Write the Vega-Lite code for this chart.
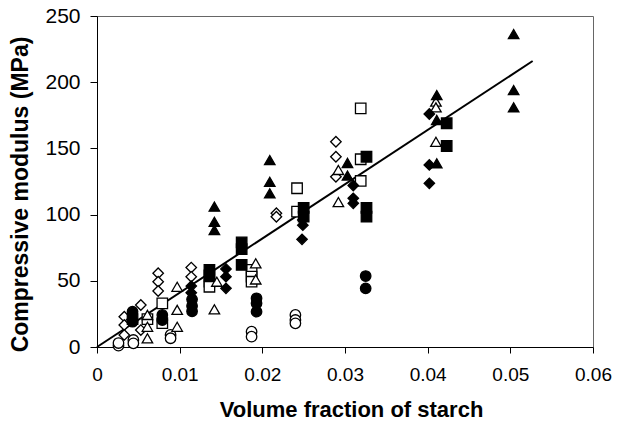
{
  "$schema": "https://vega.github.io/schema/vega-lite/v6.json",
  "width": 496,
  "height": 331,
  "autosize": {"type": "none"},
  "padding": {"left": 97, "top": 16, "right": 34, "bottom": 74},
  "background": "white",
  "config": {
    "view": {"stroke": "#666666", "strokeWidth": 1},
    "font": "Liberation Sans"
  },
  "datasets": {
    "fit": [{"x": 0, "y": 0}, {"x": 0.0527, "y": 216}],
    "pts": [
      {"x": 0.0026, "y": 1, "g": "H"}, {"x": 0.0026, "y": 3, "g": "H"},
      {"x": 0.0044, "y": 5.3, "g": "H"}, {"x": 0.0044, "y": 2.8, "g": "H"},
      {"x": 0.0089, "y": 9.1, "g": "H"}, {"x": 0.0089, "y": 6.6, "g": "H"},
      {"x": 0.0187, "y": 11.6, "g": "H"}, {"x": 0.0187, "y": 7.8, "g": "H"},
      {"x": 0.0240, "y": 24.2, "g": "H"}, {"x": 0.0240, "y": 20.4, "g": "H"}, {"x": 0.0240, "y": 17.9, "g": "H"},

      {"x": 0.0033, "y": 22.9, "g": "F"}, {"x": 0.0033, "y": 16.6, "g": "F"}, {"x": 0.0033, "y": 9.1, "g": "F"},
      {"x": 0.0053, "y": 31.7, "g": "F"}, {"x": 0.0053, "y": 12.8, "g": "F"},
      {"x": 0.0074, "y": 55.7, "g": "F"}, {"x": 0.0074, "y": 49.3, "g": "F"}, {"x": 0.0074, "y": 42.3, "g": "F"},
      {"x": 0.0114, "y": 60, "g": "F"}, {"x": 0.0114, "y": 53, "g": "F"},
      {"x": 0.0217, "y": 101, "g": "F"}, {"x": 0.0217, "y": 98.4, "g": "F"},
      {"x": 0.0289, "y": 155, "g": "F"}, {"x": 0.0289, "y": 143.7, "g": "F"}, {"x": 0.0289, "y": 128.6, "g": "F"},

      {"x": 0.0061, "y": 21, "g": "D"},
      {"x": 0.0079, "y": 33, "g": "D"}, {"x": 0.0079, "y": 18, "g": "D"},
      {"x": 0.0136, "y": 49.3, "g": "D"}, {"x": 0.0136, "y": 45.5, "g": "D"},
      {"x": 0.0187, "y": 58.2, "g": "D"}, {"x": 0.0187, "y": 53.1, "g": "D"}, {"x": 0.0187, "y": 49.3, "g": "D"},
      {"x": 0.0242, "y": 119.9, "g": "D"}, {"x": 0.0242, "y": 102.2, "g": "D"},
      {"x": 0.0319, "y": 180.3, "g": "D"}, {"x": 0.0319, "y": 141.8, "g": "D"}, {"x": 0.0319, "y": 125.4, "g": "D"},

      {"x": 0.0061, "y": 24.2, "g": "B"}, {"x": 0.0061, "y": 15.3, "g": "B"}, {"x": 0.0061, "y": 6.6, "g": "B"},
      {"x": 0.0097, "y": 45.5, "g": "B"}, {"x": 0.0097, "y": 28, "g": "B"}, {"x": 0.0097, "y": 15.3, "g": "B"},
      {"x": 0.0142, "y": 28.5, "g": "B"}, {"x": 0.0145, "y": 49.3, "g": "B"},
      {"x": 0.0192, "y": 63.2, "g": "B"}, {"x": 0.0192, "y": 51, "g": "B"},
      {"x": 0.0292, "y": 133.7, "g": "B"}, {"x": 0.0292, "y": 109.5, "g": "B"},
      {"x": 0.0410, "y": 185.3, "g": "B"}, {"x": 0.0410, "y": 181, "g": "B"}, {"x": 0.0410, "y": 155, "g": "B"},

      {"x": 0.0043, "y": 26.7, "g": "G"}, {"x": 0.0043, "y": 19.1, "g": "G"},
      {"x": 0.0079, "y": 24.2, "g": "G"}, {"x": 0.0079, "y": 20.4, "g": "G"},
      {"x": 0.0115, "y": 36, "g": "G"}, {"x": 0.0115, "y": 31, "g": "G"}, {"x": 0.0115, "y": 27, "g": "G"},
      {"x": 0.0193, "y": 36.8, "g": "G"}, {"x": 0.0193, "y": 33, "g": "G"}, {"x": 0.0193, "y": 26.7, "g": "G"},
      {"x": 0.0325, "y": 53.6, "g": "G"}, {"x": 0.0325, "y": 44.3, "g": "G"},

      {"x": 0.0114, "y": 46, "g": "E"}, {"x": 0.0114, "y": 41, "g": "E"},
      {"x": 0.0156, "y": 59, "g": "E"}, {"x": 0.0156, "y": 53.1, "g": "E"}, {"x": 0.0156, "y": 44.3, "g": "E"},
      {"x": 0.0249, "y": 96, "g": "E"}, {"x": 0.0249, "y": 92, "g": "E"}, {"x": 0.0248, "y": 81.3, "g": "E"},
      {"x": 0.0310, "y": 122, "g": "E"}, {"x": 0.0310, "y": 112.3, "g": "E"}, {"x": 0.0310, "y": 108.5, "g": "E"},
      {"x": 0.0402, "y": 176, "g": "E"}, {"x": 0.0402, "y": 137.5, "g": "E"}, {"x": 0.0402, "y": 123.6, "g": "E"},

      {"x": 0.0043, "y": 21, "g": "C"},
      {"x": 0.0136, "y": 58.2, "g": "C"}, {"x": 0.0136, "y": 54, "g": "C"},
      {"x": 0.0175, "y": 79, "g": "C"}, {"x": 0.0175, "y": 74, "g": "C"}, {"x": 0.0175, "y": 62, "g": "C"},
      {"x": 0.0250, "y": 105, "g": "C"}, {"x": 0.0250, "y": 98.4, "g": "C"},
      {"x": 0.0326, "y": 143.7, "g": "C"}, {"x": 0.0326, "y": 105, "g": "C"}, {"x": 0.0326, "y": 98.4, "g": "C"},
      {"x": 0.0423, "y": 169, "g": "C"}, {"x": 0.0423, "y": 151.8, "g": "C"},

      {"x": 0.0142, "y": 106, "g": "A"}, {"x": 0.0142, "y": 94.6, "g": "A"}, {"x": 0.0142, "y": 88.4, "g": "A"},
      {"x": 0.0209, "y": 141.2, "g": "A"}, {"x": 0.0209, "y": 124.8, "g": "A"}, {"x": 0.0209, "y": 116, "g": "A"},
      {"x": 0.0303, "y": 139, "g": "A"}, {"x": 0.0303, "y": 129.5, "g": "A"},
      {"x": 0.0411, "y": 190.3, "g": "A"}, {"x": 0.0411, "y": 171.5, "g": "A"}, {"x": 0.0411, "y": 138.7, "g": "A"},
      {"x": 0.0504, "y": 236.4, "g": "A"}, {"x": 0.0504, "y": 194.1, "g": "A"}, {"x": 0.0504, "y": 181, "g": "A"}
    ]
  },
  "layer": [
    {
      "data": {"name": "fit"},
      "mark": {"type": "line", "color": "black", "strokeWidth": 2},
      "encoding": {
        "x": {
          "field": "x", "type": "quantitative",
          "scale": {"domain": [0, 0.06], "nice": false, "zero": true},
          "axis": {
            "title": "Volume fraction of starch",
            "titleFontSize": 22, "titleFontWeight": "bold", "titleColor": "black",
            "titleX": 254, "titleY": 69, "titleBaseline": "alphabetic", "titleAlign": "center",
            "values": [0, 0.01, 0.02, 0.03, 0.04, 0.05, 0.06],
            "format": "~g",
            "labelFontSize": 19, "labelColor": "black", "labelFlush": false, "labelOverlap": false,
            "labelPadding": 12,
            "tickSize": 6, "tickColor": "black", "domainColor": "black", "grid": false
          }
        },
        "y": {
          "field": "y", "type": "quantitative",
          "scale": {"domain": [0, 250], "nice": false},
          "axis": {
            "title": "Compressive modulus (MPa)",
            "titleFontSize": 23, "titleFontWeight": "bold", "titleColor": "black",
            "titleX": -70, "titleY": 178, "titleBaseline": "alphabetic", "titleAlign": "center", "titleAngle": 270,
            "values": [0, 50, 100, 150, 200, 250],
            "labelFontSize": 21, "labelColor": "black", "labelFlush": false, "labelOverlap": false,
            "labelPadding": 10,
            "tickSize": 7, "tickColor": "black", "domainColor": "black", "grid": false
          }
        }
      }
    },
    {
      "data": {"name": "pts"},
      "mark": {"type": "point", "filled": true, "opacity": 1, "stroke": "black", "strokeWidth": 1.3, "size": 110},
      "encoding": {
        "x": {"field": "x", "type": "quantitative"},
        "y": {"field": "y", "type": "quantitative"},
        "shape": {
          "field": "g", "type": "nominal",
          "scale": {"domain": ["A", "B", "C", "D", "E", "F", "G", "H"],
                    "range": ["triangle-up", "triangle-up", "square", "square", "diamond", "diamond", "circle", "circle"]},
          "legend": null
        },
        "fill": {
          "field": "g", "type": "nominal",
          "scale": {"domain": ["A", "B", "C", "D", "E", "F", "G", "H"],
                    "range": ["black", "white", "black", "white", "black", "white", "black", "white"]},
          "legend": null
        }
      }
    }
  ]
}
